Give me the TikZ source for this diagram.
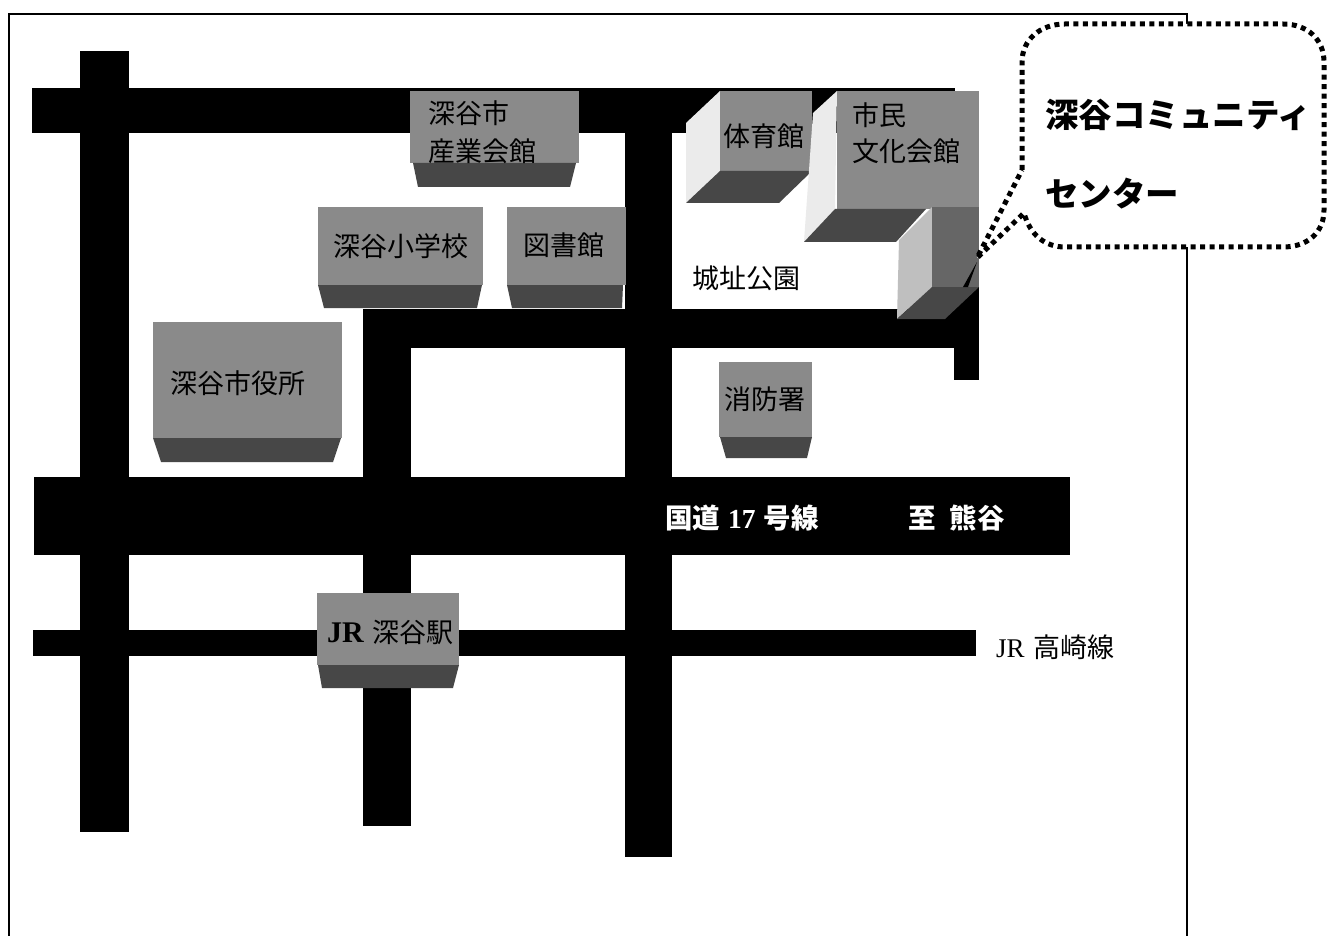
\documentclass[tikz,border=0pt]{standalone}
\usepackage{fontspec}
\setmainfont{Noto Sans CJK JP}
\newfontfamily\latinserif{Liberation Serif}
\begin{document}
\begin{tikzpicture}[x=1pt,y=-1pt,
  road/.style={fill=black,draw=none},
  front/.style={fill=black!46,draw=none},
  dark/.style={fill=black!60,draw=none},
  base/.style={fill=black!72,draw=none},
  side/.style={fill=black!8,draw=none},
  lbl/.style={inner sep=0pt,font=\fontsize{27}{27}\selectfont,text=black},
  wlbl/.style={inner sep=0pt,font=\fontsize{27.5}{27.5}\selectfont\bfseries,text=white},
  callout/.style={fill=white,draw=black,line width=5pt,dash pattern=on 5pt off 4.5pt},
  ctext/.style={inner sep=0pt,anchor=west,font=\fontsize{33.5}{33.5}\selectfont\bfseries}]
\useasboundingbox (0,0) rectangle (1328,936);
\fill[white] (0,0) rectangle (1328,936);
% frame
\draw[black,line width=1.2pt] (9,936) -- (9,14) -- (1187,14) -- (1187,936);
% roads
\path[road] (80,51) rectangle (129,832);
\path[road] (32,88) rectangle (955,133);
\path[road] (625,88) rectangle (672,857);
\path[road] (363,309) rectangle (411,826);
\path[road] (363,309) rectangle (979,348);
\path[road] (954,287) rectangle (979,380);
\path[road] (34,477) rectangle (1070,555);
\path[road] (33,630) rectangle (976,656);
% front-facing buildings
\path[front] (410,91) rectangle (579,163);
\path[base] (413,163) -- (576,163) -- (570,187) -- (418,187) -- cycle;
\path[front] (318,207) rectangle (483,285);
\path[base] (318,285) -- (482,285) -- (477,308) -- (324,308) -- cycle;
\path[front] (507,207) rectangle (626,285);
\path[base] (507,285) -- (623,285) -- (622,308) -- (512,308) -- cycle;
\path[front] (153,322) rectangle (342,438);
\path[base] (153,438) -- (341,438) -- (333,462) -- (161,462) -- cycle;
\path[front] (719,362) rectangle (812,437);
\path[base] (720,437) -- (812,437) -- (807,458) -- (726,458) -- cycle;
\path[front] (317,593) rectangle (459,665);
\path[base] (318,665) -- (459,665) -- (453,688) -- (322,688) -- cycle;
% angled buildings
\path[side] (720,91) -- (686,123) -- (686,203) -- (720,171) -- cycle;
\path[front] (720,91) rectangle (812,171);
\path[base] (720,171) -- (812,171) -- (779,203) -- (686,203) -- cycle;
\path[side] (837,91) -- (813,113) -- (804,242) -- (835,209) -- cycle;
\path[front] (837,91) rectangle (979,209);
\path[base] (835,209) -- (926,209) -- (896,242) -- (804,242) -- cycle;
\path[fill=black!25] (932,207) -- (899,240) -- (897,319) -- (932,287) -- cycle;
\path[dark] (932,207) rectangle (979,287);
\path[base] (932,287) -- (979,287) -- (945,319) -- (897,319) -- cycle;
% pointer sliver
\path[road] (977,262) -- (963,287) -- (968,287) -- cycle;
% callout
\path[callout] (1022,170) -- (1022,62) .. controls (1022,40) and (1040,24) .. (1065,24)
  -- (1283,24) .. controls (1308,24) and (1324,40) .. (1324,62)
  -- (1324,210) .. controls (1324,232) and (1308,247) .. (1283,247)
  -- (1065,247) .. controls (1045,247) and (1030,235) .. (1024,213)
  -- (977,258) -- cycle;
% labels
\node[lbl,anchor=west] (sangyo1) at (428,113) {深谷市};
\node[lbl,anchor=west] (sangyo2) at (428,151) {産業会館};
\node[lbl] (shogakko) at (401,246) {深谷小学校};
\node[lbl] (tosho) at (564,245) {図書館};
\node[lbl] (shiyakusho) at (238,383) {深谷市役所};
\node[lbl] (taiiku) at (764,136) {体育館};
\node[lbl,anchor=west] (shimin1) at (852,115) {市民};
\node[lbl,anchor=west] (shimin2) at (852,151) {文化会館};
\node[lbl,anchor=west] (koen) at (692,278) {城址公園};
\node[lbl] (shobo) at (765,399) {消防署};
\node[wlbl,anchor=west] (kokudo) at (665,518) {国道\hspace{8pt}{\latinserif 17}\hspace{8pt}号線};
\node[wlbl,anchor=west] (itaru) at (908,518) {至\hspace{14pt}熊谷};
\node[lbl,anchor=west] (eki) at (327,632) {{\fontsize{30}{30}\selectfont\latinserif\bfseries JR}\hspace{9pt}深谷駅};
\node[lbl,anchor=west] (takasaki) at (996,647) {{\latinserif JR}\hspace{9pt}高崎線};
\node[ctext] (c1) at (1045,115) {深谷コミュニティ};
\node[ctext] (c2) at (1045,194) {センター};
\end{tikzpicture}
\end{document}
